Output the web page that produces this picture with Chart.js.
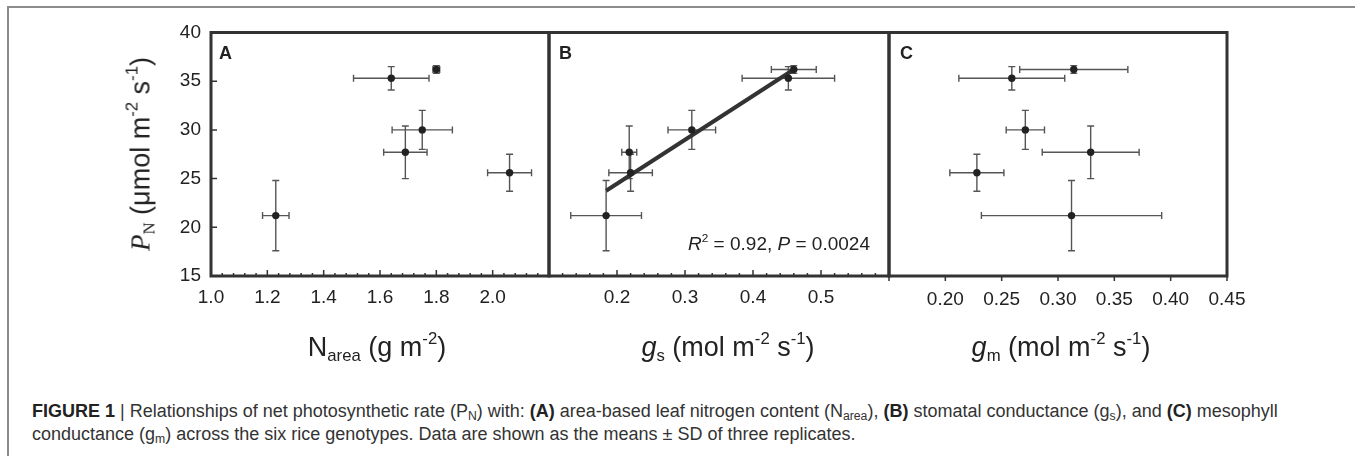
<!DOCTYPE html>
<html>
<head>
<meta charset="utf-8">
<script src="https://cdn.jsdelivr.net/npm/chart.js@4.4.1/dist/chart.umd.min.js"></script>
<style>
  html, body { margin: 0; padding: 0; background: #fff; }
  #fig { position: relative; width: 1355px; height: 456px; overflow: hidden;
         font-family: "Liberation Sans", Arial, sans-serif; color: #222; }
  .frame-top { position: absolute; left: 7px; top: 6px; width: 1348px; height: 2px; background: #8c8c8c; }
  .frame-left { position: absolute; left: 7px; top: 6px; width: 2px; height: 450px; background: #8c8c8c; }
  canvas { position: absolute; top: 0; }
  .lbl { position: absolute; white-space: nowrap; line-height: 1; }
  .lbl sub, .lbl sup { font-size: 0.62em; line-height: 0; }
  .lbl sub { vertical-align: -0.32em; }
  .lbl sup { vertical-align: 0.72em; }
  .letter { font-weight: bold; font-size: 18px; top: 44px; }
  .xtitle { font-size: 27px; top: 334px; transform: translateX(-50%); }
  .ytitle { font-size: 27px; left: 141px; top: 154px; transform: translate(-50%, -50%) rotate(-90deg); }
  .serif { font-family: "Liberation Serif", "Times New Roman", serif; }
  .stat { font-size: 19px; top: 234px; right: 485px; }
  .caption { position: absolute; left: 32px; top: 400px; font-size: 18px; line-height: 23px; color: #333; white-space: nowrap; }
  .caption b { color: #222; }
  .caption sub { font-size: 0.68em; line-height: 0; vertical-align: -0.25em; }
</style>
</head>
<body>
<div id="fig">
  <div class="frame-top"></div>
  <div class="frame-left"></div>

  <canvas id="chartA" width="440" height="330" style="left:141px"></canvas>
  <canvas id="chartB" width="442" height="330" style="left:479px"></canvas>
  <canvas id="chartC" width="440" height="330" style="left:819px"></canvas>

  <div class="lbl letter" style="left:219px">A</div>
  <div class="lbl letter" style="left:559px">B</div>
  <div class="lbl letter" style="left:900px">C</div>

  <div class="lbl stat"><i>R</i><sup>2</sup> = 0.92, <i>P</i> = 0.0024</div>

  <div class="lbl ytitle"><i class="serif">P</i><sub class="serif">N</sub> (μmol m<sup>-2</sup> s<sup>-1</sup>)</div>
  <div class="lbl xtitle" style="left:377px">N<sub>area</sub> (g m<sup>-2</sup>)</div>
  <div class="lbl xtitle" style="left:728px"><i>g</i><sub>s</sub> (mol m<sup>-2</sup> s<sup>-1</sup>)</div>
  <div class="lbl xtitle" style="left:1061px"><i>g</i><sub>m</sub> (mol m<sup>-2</sup> s<sup>-1</sup>)</div>

  <div class="caption">
    <b>FIGURE 1</b> | Relationships of net photosynthetic rate (P<sub>N</sub>) with: <b>(A)</b> area-based leaf nitrogen content (N<sub>area</sub>), <b>(B)</b> stomatal conductance (g<sub>s</sub>), and <b>(C)</b> mesophyll<br>
    conductance (g<sub>m</sub>) across the six rice genotypes. Data are shown as the means ± SD of three replicates.
  </div>
</div>

<script>
// six rice genotypes, sorted by PN
const pn = [21.2, 25.6, 27.7, 30.0, 35.3, 36.2];
const pnSD = [3.6, 1.9, 2.7, 2.0, 1.2, 0.4];
const narea = [1.23, 2.06, 1.69, 1.75, 1.64, 1.80];
const nareaSD = [0.047, 0.078, 0.077, 0.107, 0.134, 0.012];
const gs = [0.184, 0.220, 0.218, 0.310, 0.452, 0.460];
const gsSD = [0.052, 0.032, 0.011, 0.035, 0.068, 0.033];
const gm = [0.312, 0.228, 0.329, 0.271, 0.259, 0.314];
const gmSD = [0.080, 0.024, 0.043, 0.017, 0.047, 0.048];

// regression line in panel B (end points)
const fitX = [0.184, 0.460];
const fitY = [23.75, 36.2];

// tick labels
const yTicks = [15, 20, 25, 30, 35, 40];
const nareaTicks = [1.0, 1.2, 1.4, 1.6, 1.8, 2.0];
const gsTicks = [0.2, 0.3, 0.4, 0.5];
const gmTicks = [0.20, 0.25, 0.30, 0.35, 0.40, 0.45];

const FONT = "'Liberation Sans', Arial, sans-serif";
const PAD_L = 70, PAD_R = 32, TOP = 32.5, BOTTOM = 276, CH = 330;

// error bars, drawn under the points
const errPlugin = {
  id: "errbars",
  beforeDatasetsDraw(chart) {
    const { ctx, scales: { x, y } } = chart;
    const ds = chart.data.datasets[0];
    const cap = 3.5;
    ctx.save();
    ctx.strokeStyle = "#555";
    ctx.lineWidth = 1.4;
    ds.data.forEach((p, i) => {
      const px = x.getPixelForValue(p.x), py = y.getPixelForValue(p.y);
      const x0 = x.getPixelForValue(p.x - ds.xErr[i]), x1 = x.getPixelForValue(p.x + ds.xErr[i]);
      const y0 = y.getPixelForValue(p.y - ds.yErr[i]), y1 = y.getPixelForValue(p.y + ds.yErr[i]);
      ctx.beginPath();
      ctx.moveTo(x0, py); ctx.lineTo(x1, py);
      ctx.moveTo(x0, py - cap); ctx.lineTo(x0, py + cap);
      ctx.moveTo(x1, py - cap); ctx.lineTo(x1, py + cap);
      ctx.moveTo(px, y0); ctx.lineTo(px, y1);
      ctx.moveTo(px - cap, y0); ctx.lineTo(px + cap, y0);
      ctx.moveTo(px - cap, y1); ctx.lineTo(px + cap, y1);
      ctx.stroke();
    });
    ctx.restore();
  }
};

// panel box + tick marks
const framePlugin = {
  id: "frame",
  afterDraw(chart, args, o) {
    const { ctx, chartArea: a, scales: { x, y } } = chart;
    ctx.save();
    ctx.strokeStyle = "#333";
    ctx.lineWidth = 1.5;
    const n = Math.round((x.max - x.min) / o.minor);
    ctx.beginPath();
    for (let i = 0; i <= n; i++) {
      const v = x.min + i * o.minor;
      const k = (v - x.min) / o.major;
      const major = Math.abs(k - Math.round(k)) < 1e-6;
      const px = x.getPixelForValue(v);
      if (o.out) {
        if (!major) continue;
        ctx.moveTo(px, a.bottom); ctx.lineTo(px, a.bottom + 5);
      } else {
        ctx.moveTo(px, a.bottom); ctx.lineTo(px, a.bottom - (major ? 6 : 3));
      }
    }
    if (o.yTicks) {
      yTicks.forEach(v => {
        const py = y.getPixelForValue(v);
        ctx.moveTo(a.left, py); ctx.lineTo(a.left + 6, py);
      });
    }
    ctx.stroke();
    ctx.lineWidth = 3;
    ctx.strokeRect(a.left, a.top, a.right - a.left, a.bottom - a.top);
    ctx.restore();
  }
};

function makePanel(id, xs, xsd, xmin, xmax, xTicks, digits, frame, showY, extra) {
  const datasets = [{
    data: xs.map((v, i) => ({ x: v, y: pn[i] })),
    xErr: xsd,
    yErr: pnSD,
    pointRadius: 3.7,
    pointBackgroundColor: "#222",
    pointBorderWidth: 0,
    showLine: false
  }];
  if (extra) datasets.push(extra);
  return new Chart(document.getElementById(id), {
    type: "scatter",
    data: { datasets: datasets },
    plugins: [errPlugin, framePlugin],
    options: {
      responsive: false,
      animation: false,
      events: [],
      layout: { padding: { left: 0, right: PAD_R, top: TOP, bottom: 0 } },
      plugins: { legend: { display: false }, tooltip: { enabled: false }, frame: frame },
      scales: {
        x: {
          type: "linear", min: xmin, max: xmax,
          grid: { display: false, drawTicks: false },
          border: { display: false },
          ticks: {
            font: { family: FONT, size: 19 }, color: "#222", padding: frame.out ? 12 : 10,
            maxRotation: 0, autoSkip: false,
            callback: v => v.toFixed(digits)
          },
          afterBuildTicks: ax => { ax.ticks = xTicks.map(v => ({ value: v })); },
          afterFit: ax => { ax.height = CH - BOTTOM; ax.paddingLeft = 0; ax.paddingRight = 0; }
        },
        y: {
          display: showY, min: 15, max: 40,
          grid: { display: false, drawTicks: false },
          border: { display: false },
          ticks: { font: { family: FONT, size: 19 }, color: "#222", padding: 10 },
          afterBuildTicks: ax => { ax.ticks = yTicks.map(v => ({ value: v })); },
          afterFit: ax => { ax.width = PAD_L; ax.paddingTop = 0; ax.paddingBottom = 0; }
        }
      }
    }
  });
}

makePanel("chartA", narea, nareaSD, 1.0, 2.2, nareaTicks, 1,
  { major: 0.2, minor: 0.04, out: false, yTicks: true }, true);

makePanel("chartB", gs, gsSD, 0.1, 0.6, gsTicks, 1,
  { major: 0.1, minor: 0.02, out: false, yTicks: false }, false,
  {
    data: fitX.map((v, i) => ({ x: v, y: fitY[i] })),
    showLine: true,
    borderColor: "#333",
    borderWidth: 4,
    pointRadius: 0
  });

makePanel("chartC", gm, gmSD, 0.15, 0.45, gmTicks, 2,
  { major: 0.05, minor: 0.05, out: true, yTicks: false }, false);
</script>
</body>
</html>
